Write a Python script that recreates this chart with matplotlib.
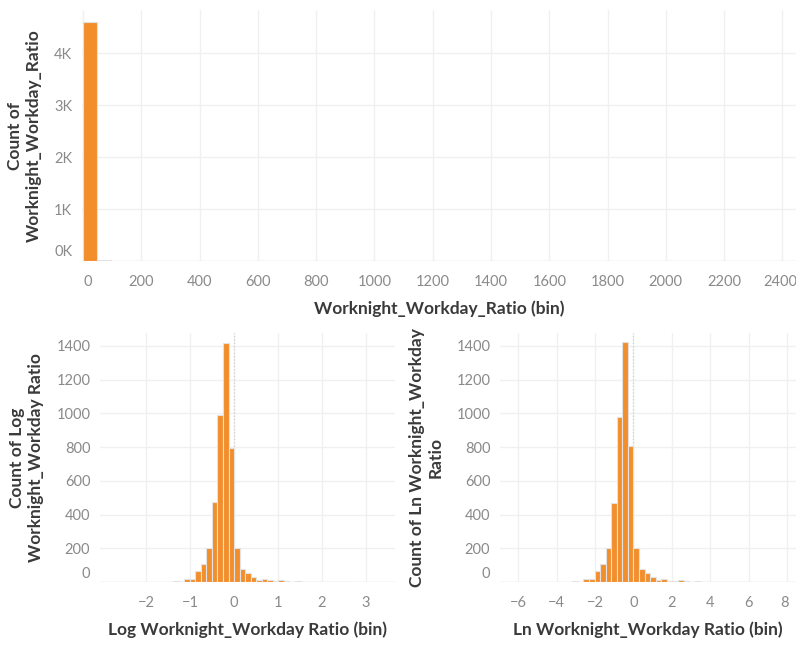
import matplotlib
matplotlib.use("Agg")
import matplotlib.pyplot as plt
import matplotlib.transforms as mtransforms
from matplotlib.ticker import FuncFormatter
import numpy as np

plt.rcParams['font.family'] = ['Lato', 'DejaVu Sans']

# ---------------- data ----------------
# Top: raw ratio histogram
raw_bin_size = 48
raw_counts = [4600, 25]

# Bottom-left: log10 ratio histogram (bins start at k * size)
log_bin_size = 0.126
log_bin_index = list(range(-11, 21))
log_counts = [8, 0, 16, 16, 63, 107, 202, 472, 990, 1419, 795,
              200, 75, 51, 32, 10, 16, 10, 8, 10, 6, 0, 8, 2, 2, 2, 2, 0, 0, 0, 2, 2]

# Bottom-right: ln ratio histogram
ln_bin_size = 0.29
ln_bin_index = list(range(-11, 21))
ln_counts = [6, 0, 16, 16, 63, 105, 200, 471, 981, 1423, 807,
             200, 75, 51, 32, 10, 16, 8, 8, 12, 8, 0, 8, 2, 2, 2, 2, 0, 0, 0, 2, 2]

top_xticks = [0, 200, 400, 600, 800, 1000, 1200, 1400, 1600, 1800, 2000, 2200, 2400]
top_yticks = [0, 1000, 2000, 3000, 4000]
log_xticks = [-2, -1, 0, 1, 2, 3]
ln_xticks = [-6, -4, -2, 0, 2, 4, 6, 8]
count_yticks = [0, 200, 400, 600, 800, 1000, 1200, 1400]

# ---------------- style ----------------
ORANGE = '#F28E2B'
EDGE = '#e2e2e2'
GRID = '#f0f0f0'
TICKC = '#8a8a8a'
TITLEC = '#3a3a3a'
TICKFS = 10.5
TITLEFS = 12.5
TITLEW = 'bold'

W, H = 796, 645
fig = plt.figure(figsize=(W / 100, H / 100), dpi=100)


def rect(l, t, r, b):
    return [l / W, 1 - b / H, (r - l) / W, (b - t) / H]


def shift(lab, dx_px, dy_px):
    off = mtransforms.ScaledTranslation(dx_px / 100, dy_px / 100, fig.dpi_scale_trans)
    lab.set_transform(lab.get_transform() + off)


def style(ax, xticks, yticks, xlim, ylim):
    ax.set_xlim(*xlim)
    ax.set_ylim(*ylim)
    for s in ax.spines.values():
        s.set_visible(False)
    ax.set_xticks(xticks)
    ax.set_yticks(yticks)
    ax.tick_params(length=0, labelsize=TICKFS, labelcolor=TICKC)
    ax.tick_params(axis='y', pad=7)
    ax.tick_params(axis='x', pad=10)
    ax.grid(True, color=GRID, lw=1.0)
    ax.set_axisbelow(True)
    ax.axhline(0, color='#e6e6e6', lw=1.0, zorder=1)
    fig.canvas.draw()
    # shift the bottom y label up like Tableau
    shift(ax.get_yticklabels()[0], 0, 10)


# ---------------- top chart ----------------
ax1 = fig.add_axes(rect(82, 10, 796, 261))
edges = np.arange(len(raw_counts)) * raw_bin_size
ax1.bar(edges, raw_counts, width=raw_bin_size, align='edge', color=ORANGE,
        edgecolor=EDGE, linewidth=0.8, zorder=2)
ax1.yaxis.set_major_formatter(FuncFormatter(lambda v, p: f"{int(v/1000)}K"))
style(ax1, top_xticks, top_yticks, (-4, 2447), (0, 4830))
ax1.set_xlabel('Worknight_Workday_Ratio (bin)', fontsize=TITLEFS, fontweight=TITLEW,
               color=TITLEC, labelpad=8)
ax1.set_ylabel('Count of\nWorknight_Workday_Ratio', fontsize=TITLEFS, fontweight=TITLEW,
               color=TITLEC, labelpad=9)
xl = ax1.get_xticklabels()
shift(xl[0], 5, 0)
shift(xl[-1], -2, 0)

# ---------------- bottom-left ----------------
ax2 = fig.add_axes(rect(100, 333, 395, 582))
lx = np.array(log_bin_index) * log_bin_size
ax2.bar(lx, log_counts, width=log_bin_size, align='edge', color=ORANGE,
        edgecolor=EDGE, linewidth=0.8, zorder=2)
ax2.axvline(0, color='#cfcfcf', lw=0.9, ls=':', zorder=1)
style(ax2, log_xticks, count_yticks, (-3.05, 3.66), (0, 1477))
ax2.set_xlabel('Log Worknight_Workday Ratio (bin)', fontsize=TITLEFS, fontweight=TITLEW,
               color=TITLEC, labelpad=8)
ax2.set_ylabel('Count of Log\nWorknight_Workday Ratio', fontsize=TITLEFS, fontweight=TITLEW,
               color=TITLEC, labelpad=9)

# ---------------- bottom-right ----------------
ax3 = fig.add_axes(rect(500, 333, 796, 582))
nx = np.array(ln_bin_index) * ln_bin_size
ax3.bar(nx, ln_counts, width=ln_bin_size, align='edge', color=ORANGE,
        edgecolor=EDGE, linewidth=0.8, zorder=2)
ax3.axvline(0, color='#cfcfcf', lw=0.9, ls=':', zorder=1)
style(ax3, ln_xticks, count_yticks, (-6.95, 8.46), (0, 1477))
ax3.set_xlabel('Ln Worknight_Workday Ratio (bin)', fontsize=TITLEFS, fontweight=TITLEW,
               color=TITLEC, labelpad=8)
ax3.set_ylabel('Count of Ln Worknight_Workday\nRatio', fontsize=TITLEFS, fontweight=TITLEW,
               color=TITLEC, labelpad=9)
shift(ax3.get_xticklabels()[-1], -3, 0)

fig.savefig('out.png', dpi=100, facecolor='white')
